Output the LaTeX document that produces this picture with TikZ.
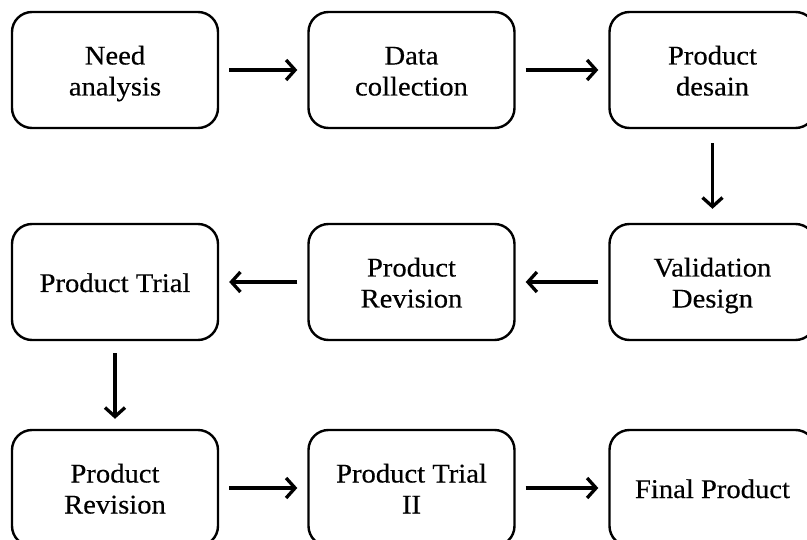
\documentclass[tikz,border=0pt]{standalone}
\usepackage{fontspec}
\setmainfont{Liberation Serif}[FakeStretch=1.06,FakeBold=0.4]
\usetikzlibrary{arrows.meta}
\begin{document}
\begin{tikzpicture}[x=1pt,y=1pt,
  box/.style={draw, line width=2.4pt, rounded corners=20pt, minimum width=206pt, minimum height=116pt, align=center, inner sep=0pt, font=\fontsize{27}{31}\selectfont},
  one/.style={text height=20pt, text depth=0pt},
  two/.style={text height=51pt, text depth=0pt},
  arr/.style={line width=3.3pt, -{Straight Barb[length=9pt,width=20pt,line width=3.3pt]}, shorten <=10pt, shorten >=10pt}]
\useasboundingbox (0,0) rectangle (807,-540);
\node[box,two] (a) at (115,-70) {Need\\analysis};
\node[box,two] (b) at (411.5,-70) {Data\\collection};
\node[box,two] (c) at (712.5,-70) {Product\\desain};
\node[box,two] (d) at (712.5,-282) {Validation\\Design};
\node[box,two] (e) at (411.5,-282) {Product\\Revision};
\node[box,one] (f) at (115,-282) {Product Trial};
\node[box,two] (g) at (115,-488) {Product\\Revision};
\node[box,two] (h) at (411.5,-488) {Product Trial\\II};
\node[box,one] (i) at (712.5,-488) {Final Product};
\draw[arr] (a.east) -- (b.west);
\draw[arr] (b.east) -- (c.west);
\draw[arr, shorten <=14pt, shorten >=14pt] (c.south) -- (d.north);
\draw[arr] (d.west) -- (e.east);
\draw[arr] (e.west) -- (f.east);
\draw[arr, shorten <=12pt] (f.south) -- (g.north);
\draw[arr] (g.east) -- (h.west);
\draw[arr] (h.east) -- (i.west);
\end{tikzpicture}
\end{document}
